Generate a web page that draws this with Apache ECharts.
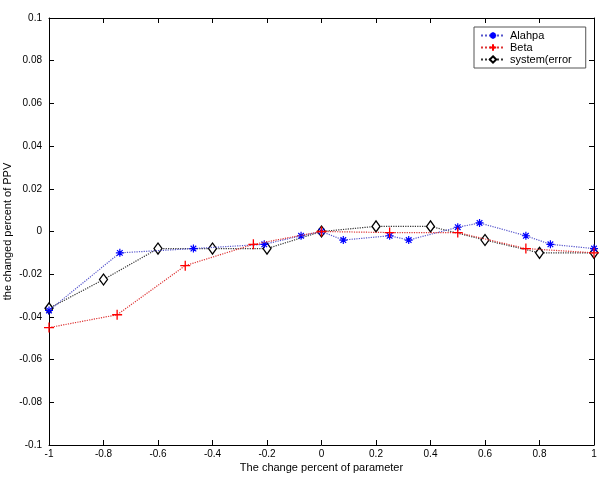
<!DOCTYPE html>
<html><head><meta charset="utf-8">
<script src="https://cdn.jsdelivr.net/npm/echarts@6/dist/echarts.min.js"></script>
<style>html,body{margin:0;padding:0;background:#fff}#c{width:600px;height:481px}</style>
</head><body><div id="c"></div>
<script>
const alahpaX = [-1, -0.74, -0.47, -0.21, -0.075, 0, 0.08, 0.25, 0.32, 0.5, 0.58, 0.75, 0.84, 1];
const alahpaY = [-0.037, -0.010, -0.008, -0.006, -0.002, 0, -0.004, -0.002, -0.004, 0.002, 0.004, -0.002, -0.006, -0.008];
const betaX = [-1, -0.75, -0.5, -0.25, 0, 0.25, 0.5, 0.75, 1];
const betaY = [-0.045, -0.039, -0.016, -0.006, 0, -0.0005, -0.0005, -0.008, -0.010];
const sysX = [-1, -0.8, -0.6, -0.4, -0.2, 0, 0.2, 0.4, 0.6, 0.8, 1];
const sysY = [-0.036, -0.0225, -0.008, -0.008, -0.008, 0, 0.0024, 0.0024, -0.004, -0.010, -0.010];
const xTicks = [-1, -0.8, -0.6, -0.4, -0.2, 0, 0.2, 0.4, 0.6, 0.8, 1];

const zip = (xs, ys) => xs.map((x, i) => [x, ys[i]]);
const FONT = 'Liberation Sans, Arial, sans-serif';
const starPath = 'path://M0 5L10 5M5 0L5 10M1.5 1.5L8.5 8.5M1.5 8.5L8.5 1.5';
const plusPath = 'path://M0 5L10 5M5 0L5 10';

const chart = echarts.init(document.getElementById('c'));
const axisCommon = () => ({
  axisLine: {show: true, onZero: false, lineStyle: {color: '#000', width: 1}},
  axisTick: {show: true, inside: true, length: 5, lineStyle: {color: '#000'}},
  splitLine: {show: false}
});
chart.setOption({
  animation: false,
  backgroundColor: '#fff',
  grid: {left: 49, right: 6, top: 18, bottom: 36, containLabel: false, outerBoundsMode: 'none'},
  legend: {
    orient: 'vertical', left: 474, top: 27, width: 98,
    backgroundColor: '#fff', borderColor: '#555', borderWidth: 1,
    padding: [3, 14, 3, 6], itemGap: 1, itemWidth: 24, itemHeight: 8,
    textStyle: {fontFamily: FONT, fontSize: 11, color: '#000'},
    data: ['Alahpa', 'Beta', 'system(error']
  },
  xAxis: [
    Object.assign({type: 'value', min: -1, max: 1, interval: 0.2, position: 'bottom',
      name: 'The change percent of parameter', nameLocation: 'middle', nameGap: 17,
      nameMoveOverlap: false,
      nameTextStyle: {fontFamily: FONT, fontSize: 11, color: '#000'},
      axisLabel: {fontFamily: FONT, fontSize: 10, color: '#000', margin: 4,
        formatter: v => String(Math.round(v * 10) / 10)}}, axisCommon()),
    Object.assign({type: 'value', min: -1, max: 1, interval: 0.2, position: 'top',
      axisLabel: {show: false}}, axisCommon())
  ],
  yAxis: [
    Object.assign({type: 'value', min: -0.1, max: 0.1, interval: 0.02, position: 'left',
      name: 'the changed percent of PPV', nameLocation: 'middle', nameGap: 36,
      nameMoveOverlap: false,
      nameTextStyle: {fontFamily: FONT, fontSize: 11, color: '#000'},
      axisLabel: {fontFamily: FONT, fontSize: 10, color: '#000', margin: 7,
        formatter: v => String(Math.round(v * 100) / 100)}}, axisCommon()),
    Object.assign({type: 'value', min: -0.1, max: 0.1, interval: 0.02, position: 'right',
      axisLabel: {show: false}}, axisCommon())
  ],
  series: [
    {name: 'Alahpa', type: 'line', data: zip(alahpaX, alahpaY),
     symbol: starPath, symbolSize: 8,
     itemStyle: {color: '#0000ff', borderColor: '#0000ff', borderWidth: 1.2},
     lineStyle: {color: '#5555cc', type: 'dotted', width: 1.2}, z: 3},
    {name: 'Beta', type: 'line', data: zip(betaX, betaY),
     symbol: plusPath, symbolSize: 10,
     itemStyle: {color: '#ff0000', borderColor: '#ff0000', borderWidth: 1.3},
     lineStyle: {color: '#dd3333', type: 'dotted', width: 1.2}, z: 4},
    {name: 'system(error', type: 'line', data: zip(sysX, sysY),
     symbol: 'diamond', symbolSize: [8, 11],
     itemStyle: {color: '#fff', borderColor: '#000', borderWidth: 1.3},
     lineStyle: {color: '#333', type: 'dotted', width: 1.2}, z: 2}
  ]
});
</script></body></html>
